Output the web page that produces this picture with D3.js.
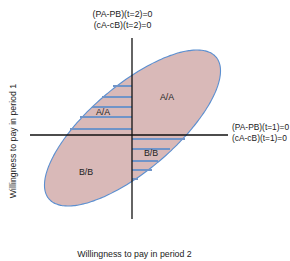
<!DOCTYPE html>
<html>
<head>
<meta charset="utf-8">
<script src="https://cdn.jsdelivr.net/npm/d3@7"></script>
<style>
html,body{margin:0;padding:0;background:#fff;}
svg{display:block;}
text{font-family:"Liberation Sans",Arial,sans-serif;fill:#222;}
</style>
</head>
<body>
<svg id="chart" width="290" height="261"></svg>
<script>
// ---- data (conceptual units, axes cross at 0,0) ----
const xDomain = [-102, 96];
const yDomain = [-84, 97];
// ellipse: center, semi-axes, rotation (degrees)
const ellipseCenter = [0.5, 7];
const ellipseAxes = [109.6, 42.6];
const ellipseAngle = 40.3;
// hatch lines in A/A (upper-left) region: y value, left end x
const hatchAY = [49, 38, 28, 18, 6];
const hatchAX = [-19, -30, -40, -52, -62];
// hatch lines in B/B (lower-right) region: y value, right end x
const hatchBY = [-4, -14, -26, -35, -44];
const hatchBX = [53, 38, 26, 20, 6];
// region labels
const regionLabels = ["A/A", "A/A", "B/B", "B/B"];
const regionX = [35, -29, 19, -46];
const regionY = [38, 23, -18, -37];
const topLabels = ["(PA-PB)(t=2)=0", "(cA-cB)(t=2)=0"];
const rightLabels = ["(PA-PB)(t=1)=0", "(cA-cB)(t=1)=0"];
const xTitle = "Willingness to pay in period 2";
const yTitle = "Willingness to pay in period 1";

// ---- scales ----
const x = d3.scaleLinear().domain(xDomain).range([30, 228]);
const y = d3.scaleLinear().domain(yDomain).range([219, 38]);

const svg = d3.select("#chart");

// ellipse outline points
const th = ellipseAngle * Math.PI / 180;
const ellPts = d3.range(0, 361, 2).map(deg => {
  const t = deg * Math.PI / 180;
  const u = ellipseAxes[0] * Math.cos(t), v = ellipseAxes[1] * Math.sin(t);
  return [ellipseCenter[0] + u * Math.cos(th) - v * Math.sin(th),
          ellipseCenter[1] + u * Math.sin(th) + v * Math.cos(th)];
});
const line = d3.line().x(d => x(d[0])).y(d => y(d[1])).curve(d3.curveCardinalClosed);

svg.append("path")
  .attr("d", line(ellPts.slice(0, -1)))
  .attr("fill", "#d9b9b8")
  .attr("stroke", "#5b8fd0")
  .attr("stroke-width", 1.1);

// hatch lines
const hatchColor = "#7094c8";
svg.append("g").selectAll("line").data(hatchAY).join("line")
  .attr("x1", (d, i) => x(hatchAX[i])).attr("x2", x(0))
  .attr("y1", d => y(d)).attr("y2", d => y(d))
  .attr("stroke", hatchColor).attr("stroke-width", 2);
svg.append("g").selectAll("line").data(hatchBY).join("line")
  .attr("x1", x(0)).attr("x2", (d, i) => x(hatchBX[i]))
  .attr("y1", d => y(d)).attr("y2", d => y(d))
  .attr("stroke", hatchColor).attr("stroke-width", 2);

// axes
svg.append("line")
  .attr("x1", x(xDomain[0])).attr("x2", x(xDomain[1]))
  .attr("y1", y(0)).attr("y2", y(0))
  .attr("stroke", "#111").attr("stroke-width", 1.3);
svg.append("line")
  .attr("x1", x(0)).attr("x2", x(0))
  .attr("y1", y(yDomain[0])).attr("y2", y(yDomain[1]))
  .attr("stroke", "#111").attr("stroke-width", 1.3);

// region labels
svg.append("g").selectAll("text").data(regionLabels).join("text")
  .attr("x", (d, i) => x(regionX[i])).attr("y", (d, i) => y(regionY[i]))
  .attr("text-anchor", "middle").attr("dominant-baseline", "central")
  .attr("font-size", 8.8).text(d => d);

// top labels
svg.append("g").selectAll("text").data(topLabels).join("text")
  .attr("x", 122.5).attr("y", (d, i) => 13.5 + i * 11.5)
  .attr("text-anchor", "middle").attr("dominant-baseline", "central")
  .attr("font-size", 8.8).text(d => d);

// right labels
svg.append("g").selectAll("text").data(rightLabels).join("text")
  .attr("x", 232).attr("y", (d, i) => 126.5 + i * 11)
  .attr("dominant-baseline", "central")
  .attr("font-size", 8.4).text(d => d);

// axis titles
svg.append("text")
  .attr("x", 134.5).attr("y", 254)
  .attr("text-anchor", "middle").attr("dominant-baseline", "central")
  .attr("font-size", 8.8).text(xTitle);
svg.append("text")
  .attr("transform", "translate(13,141) rotate(-90)")
  .attr("text-anchor", "middle").attr("dominant-baseline", "central")
  .attr("font-size", 8.8).text(yTitle);
</script>
</body>
</html>
